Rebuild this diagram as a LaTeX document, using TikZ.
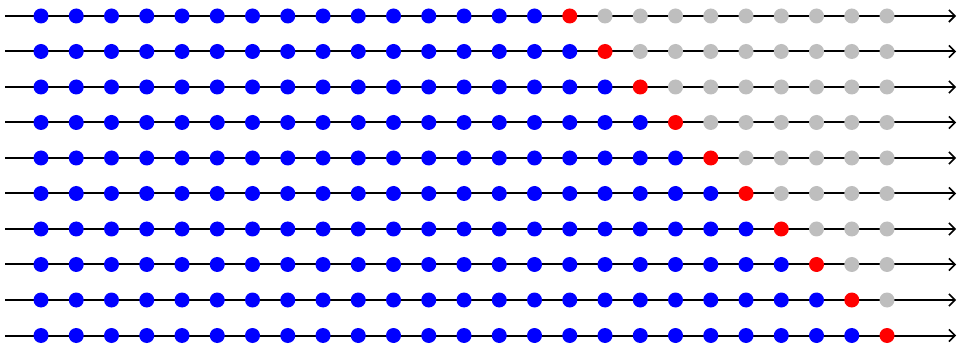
\documentclass[tikz,border=0pt]{standalone}
\usetikzlibrary{arrows.meta}
\definecolor{dotgray}{RGB}{190,190,190}
\begin{document}
\begin{tikzpicture}[x=1pt,y=-1pt,
  dotbase/.style={circle,inner sep=0pt,minimum size=15pt,draw=none},
  bluedot/.style={dotbase,fill=blue},
  reddot/.style={dotbase,fill=red},
  graydot/.style={dotbase,fill=dotgray},
  axisline/.style={line width=2pt,-{Straight Barb[length=6pt,width=12pt,line width=1.6pt]}}]
\useasboundingbox (0,0) rectangle (957,344);
\foreach \r in {0,...,9}{
  \pgfmathsetmacro{\yy}{16+35.5*\r}
  \coordinate (s\r) at (5,\yy);
  \coordinate (e\r) at (956,\yy);
  \draw[axisline] (s\r) -- (e\r);
  \pgfmathtruncatemacro{\red}{15+\r}
  \foreach \i in {0,...,24}{
    \pgfmathsetmacro{\xx}{41+35.25*\i}
    \ifnum\i<\red
      \node[bluedot] (d\r-\i) at (\xx,\yy) {};
    \else\ifnum\i=\red
      \node[reddot] (d\r-\i) at (\xx,\yy) {};
    \else
      \node[graydot] (d\r-\i) at (\xx,\yy) {};
    \fi\fi
  }
}
\end{tikzpicture}
\end{document}
